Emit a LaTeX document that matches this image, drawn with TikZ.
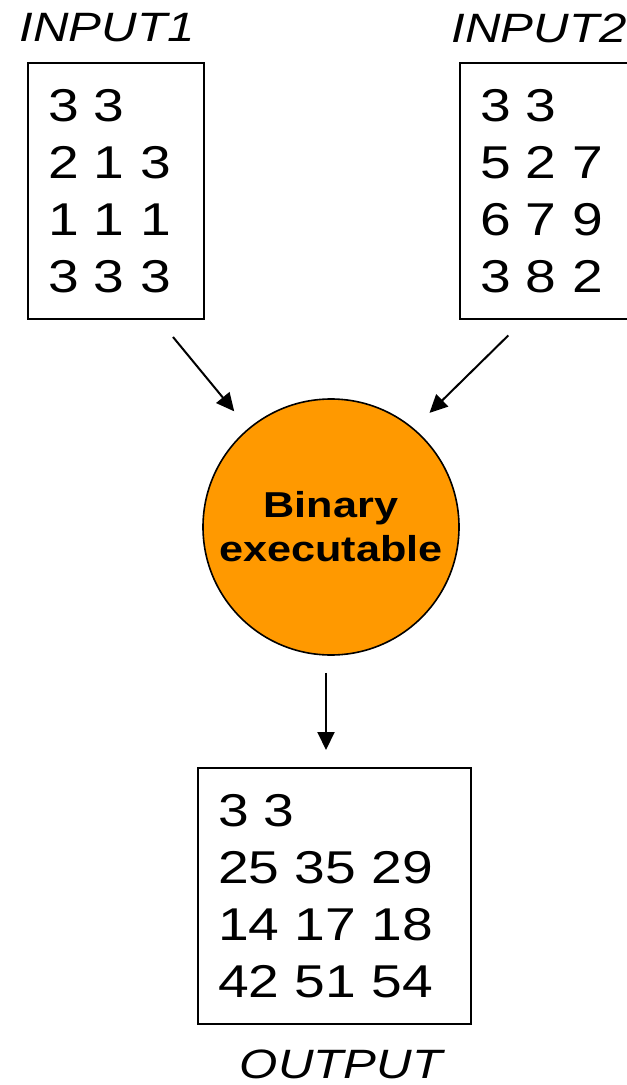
\documentclass[tikz,border=0pt]{standalone}
\usepackage{fontspec}
\setmainfont{Liberation Sans}[FakeStretch=1.2]
\usepackage{tikz}
\usepackage{xcolor}
\usetikzlibrary{arrows.meta, positioning}

\definecolor{exeorange}{HTML}{FF9900}

\begin{document}
\begin{tikzpicture}[x=0.5pt, y=-0.5pt,
    matbox/.style={draw, line width=1pt, anchor=north west, align=left, inner xsep=10pt, inner ysep=0pt, minimum height=128pt, font=\fontsize{23}{28.5}\selectfont},
    lbl/.style={font=\fontsize{20.5}{24}\selectfont\itshape, inner sep=1pt},
    flow/.style={-{Triangle[length=9pt, width=8.5pt]}, line width=1pt, shorten <=11pt, shorten >=11pt}]
                            \useasboundingbox (0,0) rectangle (626,1085);

                            \node[lbl] (lin1) at (107,28) {INPUT1};
                            \node[lbl] (lin2) at (539,28) {INPUT2};
                            \node[matbox, text width=68pt] (in1) at (27,62) {3 3\\2 1 3\\1 1 1\\3 3 3};
                            \node[matbox, text width=68pt] (in2) at (459,62) {3 3\\5 2 7\\6 7 9\\3 8 2};

                            \node[circle, draw, line width=0.8pt, fill=exeorange, minimum size=128pt, inner sep=0pt, align=center, font=\fontsize{18}{22}\selectfont\bfseries] (exe) at (331,527) {Binary\\executable};

                            \node[matbox, text width=116.5pt] (out) at (197,767) {3 3\\25 35 29\\14 17 18\\42 51 54};
                            \node[lbl] (lout) at (341,1064) {OUTPUT};

                            \draw
                            ([xshift=21.5pt]in1.south) edge[flow] (exe.130)
                            ([xshift=-12pt]in2.south) edge[flow] (exe.50)
                            ([xshift=-2.5pt]exe.south) edge[flow, shorten <=8.5pt, shorten >=8.5pt] ([xshift=-2.5pt]exe.south |- out.north);
                        \end{tikzpicture}
\end{document}
